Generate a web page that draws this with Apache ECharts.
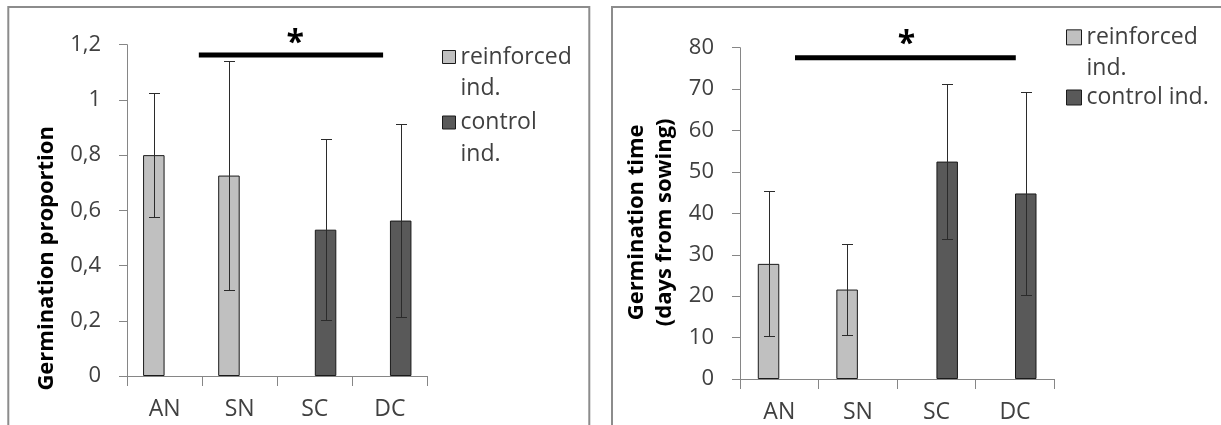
<!DOCTYPE html>
<html>
<head>
<meta charset="utf-8">
<script src="https://cdn.jsdelivr.net/npm/echarts@6/dist/echarts.min.js"></script>
<style>
  html, body { margin: 0; padding: 0; background: #fff; overflow: hidden; }
  #chart { width: 1221px; height: 425px; }
</style>
</head>
<body>
<div id="chart"></div>
<script>
// ---- data ----
const categories = ['AN', 'SN', 'SC', 'DC'];
const seriesNames = ['reinforced ind.', 'control ind.'];

// Germination proportion (mean and error per group)
const propReinforced = [0.80, 0.726, null, null];
const propControl = [null, null, 0.53, 0.563];
const propError = [0.225, 0.414, 0.328, 0.351];
const propTickLabels = ['0', '0,2', '0,4', '0,6', '0,8', '1', '1,2'];
// significance bracket: [from, to, level] in category units, star: [x, y]
const propSigBar = [0.956, 3.409, 1.163];
const propStar = [2.24, 1.229];

// Germination time, days from sowing
const timeReinforced = [27.8, 21.6, null, null];
const timeControl = [null, null, 52.5, 44.8];
const timeError = [17.5, 10.9, 18.7, 24.6];
const timeTickLabels = ['0', '10', '20', '30', '40', '50', '60', '70', '80'];
const timeSigBar = [0.70, 3.51, 77.6];
const timeStar = [2.12, 82.3];

// ---- styling constants ----
const FONT = '"Open Sans", Lato, sans-serif';
const LIGHT = '#c0c0c0';
const DARK = '#595959';
const AXIS = '#868686';
const TEXT = '#404040';
const BAR_W = 21.5;
const CAP_W = 11;
const STAR_DY = 7;   // the asterisk glyph sits high in its em box

const chart = echarts.init(document.getElementById('chart'), null, { renderer: 'canvas' });

// rows for the error-bar overlay: [category center, mean, error, side]
function errorRows(reinf, ctrl, err) {
  return categories.map((c, i) => {
    const isReinf = reinf[i] != null;
    return [i + 0.5, isReinf ? reinf[i] : ctrl[i], err[i], isReinf ? -1 : 1];
  });
}

function renderError(params, api) {
  const x = api.value(0), m = api.value(1), e = api.value(2), side = api.value(3);
  const top = api.coord([x, m + e]);
  const bot = api.coord([x, m - e]);
  const cx = Math.round(top[0] + side * BAR_W / 2) + 0.5;
  const ty = Math.round(top[1]) + 0.5, by = Math.round(bot[1]) + 0.5;
  const st = { stroke: '#2b2b2b', lineWidth: 1 };
  return {
    type: 'group',
    children: [
      { type: 'line', shape: { x1: cx, y1: ty, x2: cx, y2: by }, style: st },
      { type: 'line', shape: { x1: cx - CAP_W / 2, y1: ty, x2: cx + CAP_W / 2, y2: ty }, style: st },
      { type: 'line', shape: { x1: cx - CAP_W / 2, y1: by, x2: cx + CAP_W / 2, y2: by }, style: st }
    ]
  };
}

function renderSig(params, api) {
  const a = api.coord([api.value(0), api.value(2)]);
  const b = api.coord([api.value(1), api.value(2)]);
  const s = api.coord([api.value(3), api.value(4)]);
  return {
    type: 'group',
    children: [
      { type: 'rect', shape: { x: a[0], y: a[1] - 2.5, width: b[0] - a[0], height: 5 }, style: { fill: '#000' } },
      { type: 'text', x: s[0], y: s[1] + STAR_DY, style: { text: '*', fontFamily: FONT, fontSize: 32, fontWeight: 'bold', fill: '#000', align: 'center', verticalAlign: 'middle' } }
    ]
  };
}

function catAxis(gridIndex) {
  return {
    type: 'category', gridIndex, data: categories,
    axisLine: { lineStyle: { color: AXIS, width: 1 } },
    axisTick: { show: true, length: 10, interval: 0, lineStyle: { color: AXIS } },
    axisLabel: { color: TEXT, fontFamily: FONT, fontSize: 23, margin: 22 }
  };
}
function helperAxis(gridIndex) {
  return { type: 'value', gridIndex, min: 0, max: 4, show: false };
}
// namePad shifts the rotated axis title downward along the axis
function valAxis(gridIndex, max, interval, labels, name, nameGap, namePad) {
  return {
    type: 'value', gridIndex, min: 0, max, interval,
    name, nameLocation: 'middle', nameGap,
    nameTextStyle: { fontFamily: FONT, fontSize: 22, fontWeight: 'bold', color: '#000', lineHeight: 28, padding: [0, namePad, 0, 0] },
    axisLine: { show: true, lineStyle: { color: AXIS, width: 1 } },
    axisTick: { show: true, length: 8, lineStyle: { color: AXIS } },
    splitLine: { show: false },
    axisLabel: {
      color: TEXT, fontFamily: FONT, fontSize: 22, margin: 26,
      formatter: v => labels[Math.round(v / interval)]
    }
  };
}
function barSeries(name, data, color, gridIndex) {
  return {
    type: 'bar', name, data, xAxisIndex: gridIndex * 2, yAxisIndex: gridIndex,
    barWidth: BAR_W, barGap: '0%',
    itemStyle: { color, borderColor: '#1a1a1a', borderWidth: 1 }
  };
}

const legendText = { fontFamily: FONT, fontSize: 23, color: TEXT };
function legendBox(name, left, top, size, lineH, twoLines) {
  const h = twoLines ? 2 * lineH : size;
  const off = twoLines ? lineH / 2 - size / 2 : 0;
  const icon = twoLines
    ? 'path://M0,0M0,' + off + 'h' + size + 'v' + size + 'h-' + size + 'zM' + size + ',' + h
    : 'rect';
  return {
    data: [name], left, top, orient: 'vertical', padding: 0,
    itemWidth: size, itemHeight: h, icon,
    itemStyle: { borderWidth: 1, borderColor: '#1a1a1a' },
    formatter: n => twoLines ? n.replace(' ', '\n') : n,
    textStyle: Object.assign({ lineHeight: twoLines ? lineH : size }, legendText),
    selectedMode: false
  };
}

const option = {
  animation: false,
  backgroundColor: '#fff',
  graphic: [
    { type: 'rect', silent: true, z: -10, shape: { x: 8.3, y: 7, width: 581, height: 600 }, style: { fill: 'none', stroke: '#8c8c8c', lineWidth: 2 } },
    { type: 'rect', silent: true, z: -10, shape: { x: 612, y: 7, width: 800, height: 600 }, style: { fill: 'none', stroke: '#8c8c8c', lineWidth: 2 } }
  ],
  grid: [
    { left: 127, top: 44.7, width: 300.5, height: 331.3 },
    { left: 740, top: 47.7, width: 314.3, height: 331.3 }
  ],
  xAxis: [catAxis(0), helperAxis(0), catAxis(1), helperAxis(1)],
  yAxis: [
    valAxis(0, 1.2, 0.2, propTickLabels, 'Germination proportion', 66, 96),
    valAxis(1, 80, 10, timeTickLabels, 'Germination time\n(days from sowing)', 61, 18)
  ],
  legend: [
    legendBox(seriesNames[0], 442, 40.75, 13, 31.5, true),
    legendBox(seriesNames[1], 442, 106.25, 13, 31.5, true),
    legendBox(seriesNames[0], 1066, 21.5, 15, 30.7, true),
    legendBox(seriesNames[1], 1066, 86, 15, 30.7, false)
  ],
  series: [
    barSeries(seriesNames[0], propReinforced, LIGHT, 0),
    barSeries(seriesNames[1], propControl, DARK, 0),
    barSeries(seriesNames[0], timeReinforced, LIGHT, 1),
    barSeries(seriesNames[1], timeControl, DARK, 1),
    {
      type: 'custom', xAxisIndex: 1, yAxisIndex: 0, z: 5, silent: true,
      data: errorRows(propReinforced, propControl, propError), renderItem: renderError
    },
    {
      type: 'custom', xAxisIndex: 3, yAxisIndex: 1, z: 5, silent: true,
      data: errorRows(timeReinforced, timeControl, timeError), renderItem: renderError
    },
    {
      type: 'custom', xAxisIndex: 1, yAxisIndex: 0, z: 5, silent: true, clip: false,
      data: [propSigBar.concat(propStar)], renderItem: renderSig
    },
    {
      type: 'custom', xAxisIndex: 3, yAxisIndex: 1, z: 5, silent: true, clip: false,
      data: [timeSigBar.concat(timeStar)], renderItem: renderSig
    }
  ]
};
chart.setOption(option);
</script>
</body>
</html>
